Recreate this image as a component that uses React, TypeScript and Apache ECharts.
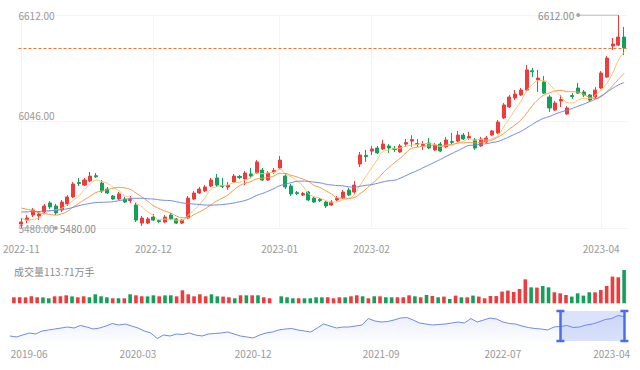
import React, { useEffect, useRef } from 'react';
import * as echarts from 'echarts';

// ---------- data ----------
const monthNames = ['2022-11', '2022-12', '2023-01', '2023-02', '2023-03', '2023-04'];
const monthTradingDays = [23, 22, 16, 20, 20, 5];
const labeledMonths = ['2022-11', '2022-12', '2023-01', '2023-02', '2023-04'];

const openPrices = [
  5501, 5522, 5549, 5544, 5565, 5613, 5597, 5576, 5608, 5645,
  5722, 5708, 5730, 5758, 5719, 5687, 5650, 5634, 5634, 5626,
  5602, 5506, 5506, 5538, 5520, 5512, 5549, 5528, 5506, 5533,
  5634, 5666, 5677, 5703, 5746, 5706, 5698, 5724, 5754, 5740,
  5767, 5772, 5788, 5735, 5778, 5799, 5756, 5703, 5668, 5655,
  5671, 5639, 5632, 5618, 5602, 5629, 5639, 5682, 5671, 5820,
  5866, 5889, 5905, 5900, 5916, 5902, 5884, 5926, 5942, 5929,
  5916, 5932, 5895, 5926, 5911, 5940, 5942, 5974, 5958, 5948,
  5916, 5937, 5974, 5985, 6065, 6123, 6171, 6187, 6213, 6316,
  6267, 6256, 6176, 6107, 6155, 6086, 6184, 6224, 6203, 6187,
  6176, 6224, 6282, 6447, 6452, 6495,
];
const closePrices = [
  5512, 5533, 5576, 5554, 5597, 5592, 5560, 5618, 5645, 5714,
  5716, 5735, 5756, 5752, 5677, 5666, 5634, 5661, 5618, 5631,
  5522, 5533, 5528, 5522, 5514, 5538, 5528, 5506, 5522, 5639,
  5666, 5687, 5698, 5735, 5708, 5700, 5706, 5756, 5748, 5772,
  5756, 5831, 5735, 5772, 5786, 5841, 5698, 5661, 5663, 5663,
  5629, 5618, 5626, 5597, 5618, 5637, 5671, 5655, 5708, 5868,
  5860, 5900, 5879, 5926, 5905, 5897, 5916, 5934, 5950, 5924,
  5924, 5905, 5921, 5889, 5948, 5935, 5974, 5953, 5966, 5905,
  5953, 5958, 5996, 6043, 6134, 6176, 6192, 6213, 6320, 6310,
  6277, 6197, 6118, 6144, 6163, 6118, 6179, 6197, 6187, 6160,
  6213, 6304, 6383, 6458, 6495, 6437,
];
const lowPrices = [
  5480, 5506, 5538, 5522, 5560, 5581, 5549, 5565, 5597, 5639,
  5703, 5703, 5724, 5746, 5666, 5661, 5629, 5629, 5613, 5613,
  5512, 5491, 5501, 5517, 5506, 5506, 5522, 5501, 5501, 5528,
  5629, 5661, 5671, 5698, 5698, 5692, 5682, 5719, 5740, 5708,
  5746, 5767, 5730, 5730, 5767, 5793, 5687, 5650, 5655, 5650,
  5623, 5613, 5618, 5586, 5597, 5623, 5634, 5650, 5661, 5804,
  5831, 5868, 5873, 5895, 5879, 5884, 5879, 5911, 5911, 5911,
  5895, 5900, 5889, 5884, 5905, 5926, 5937, 5948, 5948, 5895,
  5911, 5932, 5969, 5980, 6059, 6118, 6160, 6181, 6208, 6282,
  6203, 6192, 6097, 6102, 6123, 6081, 6166, 6192, 6176, 6150,
  6166, 6219, 6277, 6426, 6447, 6399,
];
const highPrices = [
  5533, 5549, 5586, 5570, 5608, 5623, 5608, 5629, 5655, 5724,
  5746, 5746, 5778, 5772, 5735, 5698, 5655, 5671, 5645, 5650,
  5613, 5544, 5538, 5554, 5528, 5549, 5560, 5533, 5528, 5650,
  5677, 5698, 5708, 5746, 5767, 5746, 5724, 5767, 5762, 5783,
  5799, 5841, 5799, 5783, 5799, 5863, 5772, 5714, 5677, 5671,
  5677, 5645, 5639, 5623, 5629, 5650, 5682, 5693, 5730, 5884,
  5895, 5916, 5916, 5948, 5926, 5916, 5926, 5953, 5974, 5953,
  5942, 5958, 5932, 5937, 5964, 5985, 5996, 5985, 5990, 5958,
  5964, 5969, 6001, 6054, 6144, 6187, 6213, 6224, 6346, 6330,
  6320, 6288, 6187, 6155, 6187, 6128, 6197, 6251, 6213, 6192,
  6229, 6314, 6394, 6490, 6612, 6548,
];
// volume, 万手
const volumes = [
  20.5, 20.8, 20.3, 23.9, 20.6, 20.2, 17.1, 23.8, 24.1, 27.3,
  23.6, 20.4, 23.9, 20.6, 30.7, 23.9, 20.5, 17.1, 17.3, 17.0,
  30.7, 27.3, 23.9, 23.6, 27.3, 23.9, 27.1, 27.4, 23.8, 44.4,
  30.7, 23.9, 30.7, 23.9, 30.6, 23.8, 22.9, 20.5, 17.1, 27.3,
  27.2, 27.3, 27.4, 20.5, 17.1, 0, 23.9, 20.5, 17.1, 17.2,
  17.0, 17.1, 20.5, 20.4, 20.6, 17.1, 20.5, 20.4, 23.9, 27.3,
  23.9, 17.1, 23.9, 23.8, 20.5, 20.4, 20.6, 20.5, 27.3, 23.9,
  20.5, 28.3, 24.9, 20.5, 22.9, 14.7, 26.3, 20.5, 20.4, 26.3,
  22.9, 17.1, 24.9, 24.8, 39.9, 43.4, 38.6, 48.8, 81.9, 54.6,
  53.6, 59.1, 54.6, 37.6, 34.1, 28.3, 22.9, 34.1, 26.3, 37.6,
  37.5, 45.4, 59.1, 91.2, 88.8, 113.71,
];
// closes of the 19 sessions before the window (for the moving averages)
const priorCloses = [
  5520, 5535, 5550, 5560, 5545, 5530, 5540, 5555, 5560, 5545,
  5600, 5640, 5665, 5650, 5640, 5590, 5555, 5520, 5488,
];

// overview (whole history)
const overviewValues = [
  4697, 4608, 4786, 4965, 4876, 5143, 5232, 5322, 5411, 5500,
  5411, 5634, 5500, 5322, 5411, 5589, 5812, 5678, 5768, 5589,
  5411, 5143, 4965, 4474, 4786, 4697, 4876, 4831, 4965, 4786,
  4697, 4876, 4920, 4965, 5054, 4876, 4697, 4608, 4519, 4786,
  4965, 5054, 5232, 5322, 5366, 5232, 5143, 5054, 5411, 5768,
  5589, 5411, 5500, 5500, 5589, 5678, 6258, 6035, 5946, 5991,
  6124, 6303, 6347, 6124, 5857, 5768, 5678, 5723, 5768, 5857,
  5946, 5857, 6258, 5946, 6124, 6303, 6214, 5946, 5812, 5768,
  5589, 5455, 5366, 5322, 5232, 5500, 5545, 5634, 5455, 5500,
  5678, 5768, 5946, 6169, 6258, 6526, 6437,
];
const overviewTickIndex = [3, 20, 38, 58, 77, 94];
const overviewTickLabels = ['2019-06', '2020-03', '2020-12', '2021-09', '2022-07', '2023-04'];
const overviewSelection = [86, 96];

const yMin = 5480;
const yMax = 6612;
const yStep = 566;

// ---------- helpers ----------
const tradeDates: string[] = [];
monthNames.forEach((m, mi) => {
  for (let d = 0; d < monthTradingDays[mi]; d++) {
    tradeDates.push(`${m}-${String(d + 1).padStart(2, '0')}`);
  }
});

function movingAverage(n: number): number[] {
  const all = priorCloses.concat(closePrices);
  const off = priorCloses.length;
  return closePrices.map((_, i) => {
    let s = 0;
    for (let j = 0; j < n; j++) s += all[off + i - j];
    return +(s / n).toFixed(2);
  });
}

const RED = '#ef3b3b';
const GREEN = '#13a15a';
const GREY = '#a6a6a6';
const FONT = '"Noto Sans CJK SC", "Noto Sans", sans-serif';
const FS = 10;

export default function App() {
  const ref = useRef<HTMLDivElement>(null);

  useEffect(() => {
    document.body.style.margin = '0';
    if (!ref.current) return;
    const chart = echarts.init(ref.current, undefined, { renderer: 'svg' });

    const candleData = openPrices.map((o, i) => [o, closePrices[i], lowPrices[i], highPrices[i]]);
    const volData = volumes.map((v, i) => ({
      value: v,
      itemStyle: { color: closePrices[i] >= openPrices[i] ? RED : GREEN },
    }));
    const hi = Math.max(...highPrices);
    const lo = Math.min(...lowPrices);
    const maxIdx = highPrices.indexOf(hi);
    const minIdx = lowPrices.indexOf(lo);
    const lastClose = closePrices[closePrices.length - 1];
    const monthLabel = (_i: number, v: string) =>
      v.endsWith('-01') && labeledMonths.includes(v.slice(0, 7));

    const leaderSeries = (points: any[]) => ({
      type: 'line',
      xAxisIndex: 0,
      yAxisIndex: 0,
      silent: true,
      data: points,
      showSymbol: true,
      showAllSymbol: true,
      lineStyle: { color: GREY, width: 1 },
      itemStyle: { color: GREY },
      z: 5,
    });
    const leaderLabel = (text: string, position: string) => ({
      show: true,
      position,
      distance: 2,
      formatter: text,
      color: '#8c8c8c',
      fontSize: FS,
      fontFamily: FONT,
    });

    const option: any = {
      animation: false,
      backgroundColor: '#ffffff',
      textStyle: { fontFamily: FONT },
      title: {
        text: `成交量${volumes[volumes.length - 1].toFixed(2)}万手`,
        left: 9,
        top: 261,
        textStyle: { fontSize: FS, color: '#8a8a8a', fontWeight: 'normal', fontFamily: FONT },
      },
      grid: [
        { left: 11, right: 13, top: 15, height: 213 },
        { left: 11, right: 13, top: 270, height: 33.3 },
        { left: 10, right: 15.6, top: 311, height: 30 },
      ],
      xAxis: [
        {
          type: 'category',
          data: tradeDates,
          gridIndex: 0,
          boundaryGap: true,
          axisLine: { show: false },
          axisTick: { show: false },
          axisLabel: {
            interval: monthLabel,
            formatter: (v: string) => v.slice(0, 7),
            color: '#999',
            fontSize: FS,
            margin: 15,
            fontFamily: FONT,
          },
          splitLine: { show: true, interval: monthLabel, alignWithLabel: true, lineStyle: { color: '#f4f4f4' } },
        },
        {
          type: 'category',
          data: tradeDates,
          gridIndex: 1,
          boundaryGap: true,
          axisLine: { show: false },
          axisTick: { show: false },
          axisLabel: { show: false },
          splitLine: { show: false },
        },
        {
          type: 'category',
          data: overviewValues.map((_, k) => String(k)),
          gridIndex: 2,
          boundaryGap: false,
          axisLine: { show: false },
          axisTick: { show: false },
          axisLabel: {
            interval: (i: number) => overviewTickIndex.includes(i),
            formatter: (_v: string, i: number) => overviewTickLabels[overviewTickIndex.indexOf(i)] || '',
            color: '#999',
            fontSize: FS,
            margin: 7,
            fontFamily: FONT,
          },
          splitLine: { show: false },
        },
      ],
      yAxis: [
        {
          gridIndex: 0,
          min: yMin,
          max: yMax,
          interval: yStep,
          axisLine: { show: false },
          axisTick: { show: false },
          axisLabel: {
            inside: true,
            margin: 0,
            color: '#999',
            fontSize: FS,
            fontFamily: FONT,
            formatter: (v: number) => {
              const t = v.toFixed(2);
              if (v === yMax) return `{t|${t}}`;
              if (v === yMin) return `{b|${t}}`;
              return `{m|${t}}`;
            },
            rich: {
              t: { color: '#999', fontSize: FS, fontFamily: FONT },
              m: { color: '#999', fontSize: FS, fontFamily: FONT, padding: [0, 0, 13, 0] },
              b: { color: '#999', fontSize: FS, fontFamily: FONT },
            },
          },
          splitLine: { show: true, lineStyle: { color: '#f4f4f4' } },
        },
        {
          gridIndex: 1,
          min: 0,
          max: 'dataMax',
          axisLine: { show: false },
          axisTick: { show: false },
          axisLabel: { show: false },
          splitLine: { show: false },
        },
        {
          gridIndex: 2,
          min: 4250,
          max: 6930,
          axisLine: { show: false },
          axisTick: { show: false },
          axisLabel: { show: false },
          splitLine: { show: false },
        },
      ],
      series: [
        {
          name: 'K',
          type: 'candlestick',
          xAxisIndex: 0,
          yAxisIndex: 0,
          data: candleData,
          barWidth: '62%',
          itemStyle: { color: RED, color0: GREEN, borderColor: RED, borderColor0: GREEN, borderWidth: 1 },
          markLine: {
            silent: true,
            animation: false,
            symbol: ['none', 'none'],
            label: { show: false },
            lineStyle: { type: [3, 2], color: '#f0743a', width: 1 },
            data: [{ yAxis: lastClose }],
          },
        },
        {
          name: 'MA5',
          type: 'line',
          xAxisIndex: 0,
          yAxisIndex: 0,
          data: movingAverage(5),
          smooth: true,
          showSymbol: false,
          lineStyle: { width: 1, color: '#f7c56c' },
          z: 3,
        },
        {
          name: 'MA10',
          type: 'line',
          xAxisIndex: 0,
          yAxisIndex: 0,
          data: movingAverage(10),
          smooth: true,
          showSymbol: false,
          lineStyle: { width: 1, color: '#ef9848' },
          z: 3,
        },
        {
          name: 'MA20',
          type: 'line',
          xAxisIndex: 0,
          yAxisIndex: 0,
          data: movingAverage(20),
          smooth: true,
          showSymbol: false,
          lineStyle: { width: 1, color: '#6f86e2' },
          z: 3,
        },
        leaderSeries([
          { value: [maxIdx - 7, hi], symbol: 'circle', symbolSize: 4, label: leaderLabel(hi.toFixed(2), 'left') },
          { value: [maxIdx, hi], symbol: 'none' },
        ]),
        leaderSeries([
          { value: [minIdx, lo], symbol: 'none' },
          { value: [minIdx + 6, lo], symbol: 'circle', symbolSize: 4, label: leaderLabel(lo.toFixed(2), 'right') },
        ]),
        {
          name: 'VOL',
          type: 'bar',
          xAxisIndex: 1,
          yAxisIndex: 1,
          data: volData,
          barWidth: '62%',
        },
        {
          name: 'Overview',
          type: 'line',
          xAxisIndex: 2,
          yAxisIndex: 2,
          data: overviewValues,
          showSymbol: false,
          lineStyle: { width: 1, color: '#6f8ae6' },
          areaStyle: {
            color: new echarts.graphic.LinearGradient(0, 0, 0, 1, [
              { offset: 0, color: 'rgba(120,150,230,0.22)' },
              { offset: 1, color: 'rgba(120,150,230,0.03)' },
            ]),
          },
          markArea: {
            silent: true,
            itemStyle: { color: 'rgba(110,145,235,0.25)' },
            data: [[{ xAxis: overviewSelection[0] }, { xAxis: overviewSelection[1] }]],
          },
          markLine: {
            silent: true,
            animation: false,
            symbol: ['rect', 'rect'],
            symbolSize: [8, 2.5],
            symbolRotate: 0,
            label: { show: false },
            lineStyle: { color: '#4a6cf0', width: 2.5, type: 'solid' },
            data: [{ xAxis: overviewSelection[0] }, { xAxis: overviewSelection[1] }],
          },
        },
      ],
    };

    chart.setOption(option);
    return () => chart.dispose();
  }, []);

  return <div ref={ref} style={{ width: 640, height: 370 }} />;
}
